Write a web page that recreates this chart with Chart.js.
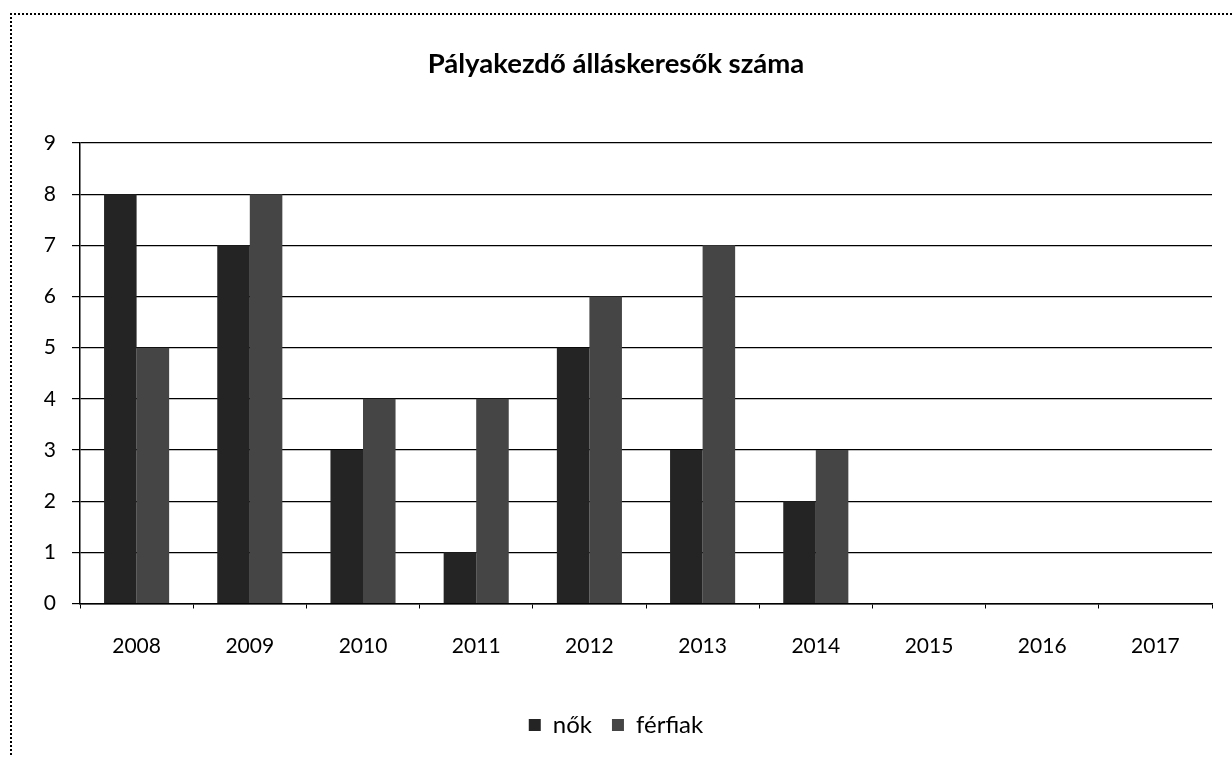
<!DOCTYPE html>
<html><head><meta charset="utf-8">
<script src="https://cdn.jsdelivr.net/npm/chart.js@4/dist/chart.umd.min.js"></script>
<style>
html,body{margin:0;padding:0;background:#fff;overflow:hidden;}
#frame{position:absolute;left:10px;top:13px;width:1240px;height:760px;border-left:2px dotted #000;border-top:2px dotted #000;}
#c{position:absolute;left:0;top:0;}
</style></head>
<body>
<div id="frame"></div>
<canvas id="c" width="1232" height="757"></canvas>
<script>
const categories = ['2008','2009','2010','2011','2012','2013','2014','2015','2016','2017'];
const nok = [8,7,3,1,5,3,2,0,0,0];
const ferfiak = [5,8,4,4,6,7,3,0,0,0];
const seriesNames = ['nők','férfiak'];
const titleText = 'Pályakezdő álláskeresők száma';
const FONT = 'Lato';

new Chart(document.getElementById('c'), {
  type: 'bar',
  data: {
    labels: categories,
    datasets: [
      {label: seriesNames[0], data: nok, backgroundColor: '#242424', borderWidth: 0},
      {label: seriesNames[1], data: ferfiak, backgroundColor: '#454545', borderWidth: 0}
    ]
  },
  options: {
    responsive: false,
    animation: false,
    layout: {padding: {left: 20, right: 20, top: 0, bottom: 10}},
    datasets: {bar: {barPercentage: 1.0, categoryPercentage: 0.575}},
    plugins: {
      title: {display: true, text: titleText, color: '#000',
        font: {family: FONT, size: 27.5, weight: 'bold'}, padding: {top: 48, bottom: 62}},
      legend: {position: 'bottom',
        labels: {color: '#000', font: {family: FONT, size: 24}, boxWidth: 12, boxHeight: 12, padding: 20}},
      tooltip: {enabled: false}
    },
    scales: {
      x: {
        grid: {drawOnChartArea: false, drawTicks: true, tickLength: 5, color: '#000', offset: true},
        border: {display: true, color: '#000', width: 1.5},
        ticks: {color: '#000', font: {family: FONT, size: 21}, padding: 25},
        afterFit: s => { s.height = 89.5; }
      },
      y: {
        min: 0, max: 9,
        grid: {color: '#000', lineWidth: 1.2, tickLength: 8},
        border: {display: true, color: '#000', width: 1.5},
        ticks: {stepSize: 1, color: '#000', font: {family: FONT, size: 21}, padding: 16},
        afterFit: s => { s.width = 60; }
      }
    }
  }
});
</script>
</body></html>
